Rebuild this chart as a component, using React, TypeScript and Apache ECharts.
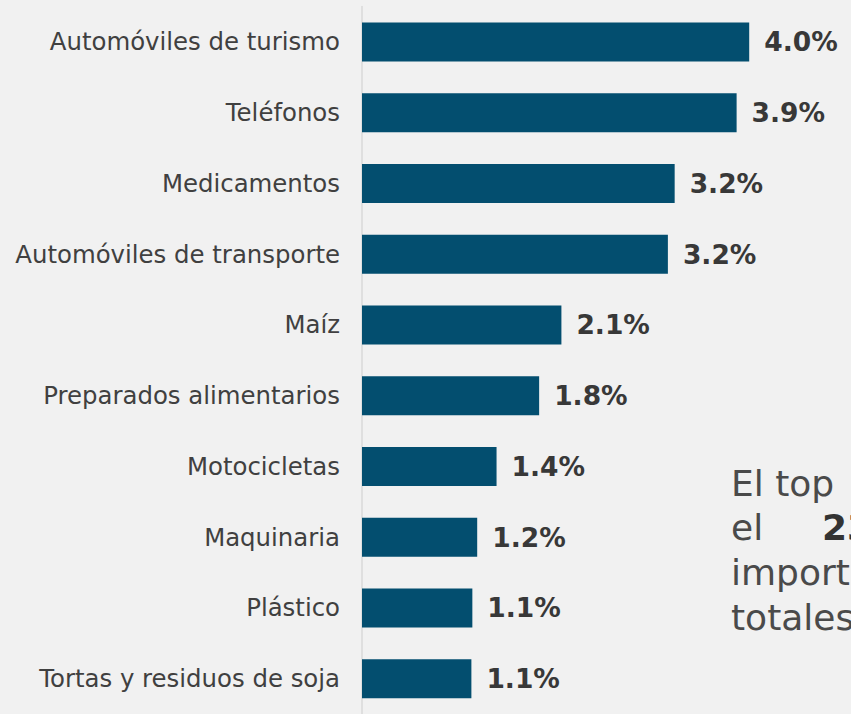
import React, { useEffect, useRef } from "react";
import * as echarts from "echarts";

const categories = [
  "Automóviles de turismo",
  "Teléfonos",
  "Medicamentos",
  "Automóviles de transporte",
  "Maíz",
  "Preparados alimentarios",
  "Motocicletas",
  "Maquinaria",
  "Plástico",
  "Tortas y residuos de soja",
];
const values = [4.0, 3.87, 3.23, 3.16, 2.06, 1.83, 1.39, 1.19, 1.14, 1.13];
const valueLabels = ["4.0%", "3.9%", "3.2%", "3.2%", "2.1%", "1.8%", "1.4%", "1.2%", "1.1%", "1.1%"];
const noteLines = ["El top", "el", "import", "totales"];
const noteBold = "23";

const FONT = "'DejaVu Sans', sans-serif";

export default function App() {
  const ref = useRef<HTMLDivElement>(null);
  useEffect(() => {
    document.body.style.margin = "0";
    if (!ref.current) return;
    const chart = echarts.init(ref.current, null, { renderer: "svg" });
    const noteColor = "#4a4a4a";
    const noteSize = 36;
    const firstBaseline = 498;
    const lh = 44.7;
    const topOf = (i: number) => firstBaseline - 33 + i * lh;
    const noteFont = `normal ${noteSize}px ${FONT}`;
    chart.setOption({
      animation: false,
      backgroundColor: "#f1f1f1",
      grid: { left: 362, right: 5, top: 6.5, bottom: -0.5, containLabel: false },
      xAxis: { type: "value", min: 0, max: 5, show: false },
      yAxis: {
        type: "category",
        inverse: true,
        data: categories,
        axisLine: { show: true, lineStyle: { color: "#d9d9d9", width: 1.5 } },
        axisTick: { show: false },
        axisLabel: { margin: 22, fontSize: 24.4, color: "#404040", fontFamily: FONT },
        splitLine: { show: false },
      },
      series: [
        {
          type: "bar",
          data: values,
          barWidth: 39,
          itemStyle: { color: "#034e6f" },
          label: {
            show: true,
            position: "right",
            distance: 15,
            formatter: (p: any) => valueLabels[p.dataIndex],
            fontFamily: FONT,
            fontWeight: "bold",
            fontSize: 26.5,
            color: "#383838",
          },
        },
      ],
      graphic: [
        { type: "text", left: 731, top: topOf(0), style: { text: noteLines[0], font: noteFont, fill: noteColor } },
        { type: "text", left: 731, top: topOf(1), style: { text: noteLines[1], font: noteFont, fill: noteColor } },
        {
          type: "text",
          left: 822,
          top: topOf(1),
          style: { text: noteBold, font: `bold ${noteSize}px ${FONT}`, fill: "#333333" },
        },
        { type: "text", left: 731, top: topOf(2), style: { text: noteLines[2], font: noteFont, fill: noteColor } },
        { type: "text", left: 731, top: topOf(3), style: { text: noteLines[3], font: noteFont, fill: noteColor } },
      ],
    });
    return () => chart.dispose();
  }, []);
  return <div ref={ref} style={{ width: 851, height: 714 }} />;
}
